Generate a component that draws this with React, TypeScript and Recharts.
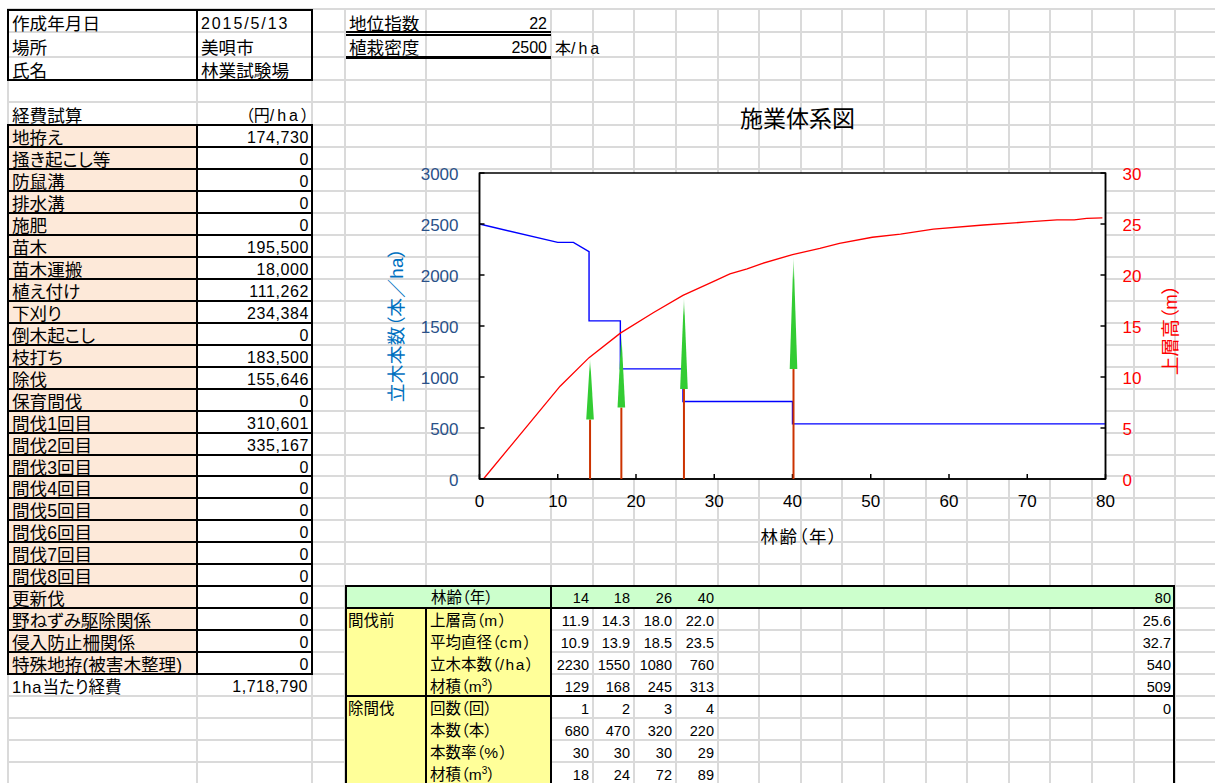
import React from "react";
import {
  ComposedChart,
  Line,
  Scatter,
  XAxis,
  YAxis,
  ReferenceArea,
} from "recharts";

// stems per hectare over stand age (stepped at each thinning)
const stemAges = [0, 10, 12, 14, 14, 18, 18, 26, 26, 40, 40, 80];
const stemCounts = [2500, 2320, 2320, 2230, 1550, 1550, 1080, 1080, 760, 760, 540, 540];

// top height curve
const heightAges = [0.5, 10.3, 14, 18, 22.2, 26, 30, 32, 34.2, 36, 40, 43.5, 46, 50.2, 53.8, 58, 64.4, 70, 73.8, 76, 77.6, 79.6];
const heightValues = [0, 9.1, 11.9, 14.3, 16.3, 18, 19.4, 20.1, 20.6, 21.1, 22, 22.6, 23.1, 23.7, 24, 24.5, 24.9, 25.2, 25.4, 25.4, 25.55, 25.6];

// thinning years, drawn as small trees
const thinAges = [14, 18, 26, 40];
const thinHeights = [11.9, 14.3, 18.0, 22.0];

const xTicks = [0, 10, 20, 30, 40, 50, 60, 70, 80];
const stemTicks = [0, 500, 1000, 1500, 2000, 2500, 3000];
const heightTicks = [0, 5, 10, 15, 20, 25, 30];

const costNames = [
  "地拵え", "掻き起こし等", "防鼠溝", "排水溝", "施肥", "苗木", "苗木運搬", "植え付け", "下刈り",
  "倒木起こし", "枝打ち", "除伐", "保育間伐", "間伐1回目", "間伐2回目", "間伐3回目", "間伐4回目",
  "間伐5回目", "間伐6回目", "間伐7回目", "間伐8回目", "更新伐", "野ねずみ駆除関係", "侵入防止柵関係",
  "特殊地拵(被害木整理)",
];
const costValues = [
  174730, 0, 0, 0, 0, 195500, 18000, 111262, 234384, 0, 183500, 155646, 0, 310601, 335167,
  0, 0, 0, 0, 0, 0, 0, 0, 0, 0,
];

const infoRows = [
  ["作成年月日", "2015/5/13"],
  ["場所", "美唄市"],
  ["氏名", "林業試験場"],
];

const tableAges = ["14", "18", "26", "40"];
const tableLastAge = "80";
const beforeLabels = ["上層高（m）", "平均直径（cm）", "立木本数（/ha）", "材積（m3）"];
const beforeValues = [
  ["11.9", "14.3", "18.0", "22.0"],
  ["10.9", "13.9", "18.5", "23.5"],
  ["2230", "1550", "1080", "760"],
  ["129", "168", "245", "313"],
];
const beforeLast = ["25.6", "32.7", "540", "509"];
const cutLabels = ["回数（回）", "本数（本）", "本数率（%）", "材積（m3）"];
const cutValues = [
  ["1", "2", "3", "4"],
  ["680", "470", "320", "220"],
  ["30", "30", "30", "29"],
  ["18", "24", "72", "89"],
];
const cutLast = ["0", "", "", ""];

const stemRows = stemAges.map((age, i) => ({ age, stems: stemCounts[i] }));
const heightRows = heightAges.map((age, i) => ({ age, height: heightValues[i] }));
const treeRows = thinAges.map((age, i) => ({ age, height: thinHeights[i] }));

const FONT = '"Liberation Sans", "Noto Sans CJK JP", sans-serif';
const GRID = "#DADADA";
const COL_X = [8, 197, 312, 345, 426, 551, 593, 634, 676, 718, 759, 801, 842, 884, 926, 967, 1009, 1050, 1092, 1134, 1175];
const TOP_ROWS = [9, 32, 57, 80, 102];
const DATA_COLS = [593, 634, 676, 718];

const rowY = (k: number) => Math.round(124.8 + 21.98 * k);

const Bar2 = ({ x, y, w, h, c = "#000" }: any) => (
  <div style={{ position: "absolute", left: x, top: y, width: w, height: h, background: c }} />
);

const Txt = ({ x, right, y, size = 17.6, ls = 0, children }: any) => (
  <div
    style={{
      position: "absolute",
      left: right === undefined ? x : undefined,
      right: right === undefined ? undefined : 1215 - right,
      top: y,
      height: 22,
      lineHeight: "22px",
      fontSize: size,
      letterSpacing: ls,
      whiteSpace: "nowrap",
      color: "#000",
    }}
  >
    {children}
  </div>
);

// latin runs sit wider than the proportional default; "m3" takes a superscript
const fmt = (s: string, gap = 1.5) =>
  s.split(/([\x20-\x7e]+)/).map((part, i) => {
    if (!/[\x20-\x7e]/.test(part)) return part;
    if (part === "m3") {
      return (
        <span key={i}>
          m<sup style={{ fontSize: 10, lineHeight: 0 }}>3</sup>
        </span>
      );
    }
    return (
      <span key={i} style={{ letterSpacing: gap }}>
        {part}
      </span>
    );
  });

const Sheet = () => {
  const allRows = [...TOP_ROWS];
  for (let k = 0; rowY(k) < 783; k++) allRows.push(rowY(k));
  const tT = rowY(21);
  const tH = rowY(22);
  const tM = rowY(26);
  const infoTops = [13, 37, 60];
  return (
    <>
      {allRows.map((y) => (
        <Bar2 key={y} x={8} y={y - 1} w={1207} h={2} c={GRID} />
      ))}
      {COL_X.map((x) => (
        <Bar2 key={x} x={x - 1} y={8} w={2} h={775} c={GRID} />
      ))}

      {/* info box */}
      {infoRows.map(([a, b], i) => (
        <React.Fragment key={a}>
          <Txt x={12} y={infoTops[i]}>{a}</Txt>
          <Txt x={201} y={infoTops[i]} size={i === 0 ? 16 : 17.6} ls={i === 0 ? 1.9 : 0}>{b}</Txt>
        </React.Fragment>
      ))}
      <Bar2 x={7} y={9} w={306} h={2} />
      <Bar2 x={7} y={79} w={306} h={2} />
      <Bar2 x={7} y={9} w={2} h={72} />
      <Bar2 x={196} y={9} w={2} h={72} />
      <Bar2 x={311} y={9} w={2} h={72} />

      {/* site index and planting density */}
      <Txt x={349} y={13}>地位指数</Txt>
      <Txt right={547} y={13} size={16}>22</Txt>
      <Bar2 x={346} y={31} w={205} h={1.5} />
      <Bar2 x={346} y={34} w={205} h={1.5} />
      <Txt x={349} y={37}>植栽密度</Txt>
      <Txt right={547} y={37} size={16}>2500</Txt>
      <Txt x={555} y={38} size={16}>{fmt("本/ha", 3)}</Txt>
      <Bar2 x={346} y={56} w={205} h={3} />

      {/* cost table */}
      <Txt x={12} y={105}>経費試算</Txt>
      <Txt right={309} y={105} size={16}>{fmt("（円/ha）", 3)}</Txt>
      {costNames.map((name, i) => (
        <React.Fragment key={name}>
          <Bar2 x={8} y={rowY(i)} w={189} h={rowY(i + 1) - rowY(i)} c="#FDE9D9" />
          <Bar2 x={198} y={rowY(i)} w={113} h={rowY(i + 1) - rowY(i)} c="#fff" />
          <Txt x={12} y={rowY(i) + 2}>{name}</Txt>
          <Txt right={309} y={rowY(i) + 2} size={16} ls={0.6}>{costValues[i].toLocaleString("en-US")}</Txt>
        </React.Fragment>
      ))}
      {costNames.concat("").map((_, i) => (
        <Bar2 key={i} x={7} y={rowY(i) - 1} w={306} h={2} />
      ))}
      <Bar2 x={7} y={rowY(0)} w={2} h={rowY(25) - rowY(0)} />
      <Bar2 x={196} y={rowY(0)} w={2} h={rowY(25) - rowY(0)} />
      <Bar2 x={311} y={rowY(0)} w={2} h={rowY(25) - rowY(0)} />
      <Txt x={12} y={rowY(25) + 2} size={16.5}>{fmt("1ha当たり経費", 1)}</Txt>
      <Txt right={308} y={rowY(25) + 2} size={16} ls={0.5}>1,718,790</Txt>

      {/* stand table */}
      <Bar2 x={346} y={tT} w={828} h={tH - tT} c="#CCFFCC" />
      <Bar2 x={346} y={tH} w={205} h={783 - tH} c="#FFFF99" />
      <Txt x={431} y={tT + 1} size={15.5}>林齢（年）</Txt>
      {tableAges.map((a, j) => (
        <Txt key={a} right={DATA_COLS[j] - 4} y={tT + 1} size={14.5}>{a}</Txt>
      ))}
      <Txt right={1171} y={tT + 1} size={14.5}>{tableLastAge}</Txt>
      <Txt x={348} y={tH + 2} size={15.5}>間伐前</Txt>
      <Txt x={348} y={tM + 2} size={15.5}>除間伐</Txt>
      {beforeLabels.map((label, i) => (
        <React.Fragment key={label}>
          <Txt x={430} y={rowY(22 + i) + 2} size={15.5}>{fmt(label)}</Txt>
          {beforeValues[i].map((v, j) => (
            <Txt key={j} right={DATA_COLS[j] - 4} y={rowY(22 + i) + 2} size={14.5}>{v}</Txt>
          ))}
          <Txt right={1171} y={rowY(22 + i) + 2} size={14.5}>{beforeLast[i]}</Txt>
        </React.Fragment>
      ))}
      {cutLabels.map((label, i) => (
        <React.Fragment key={label}>
          <Txt x={430} y={rowY(26 + i) + 2} size={15.5}>{fmt(label)}</Txt>
          {cutValues[i].map((v, j) => (
            <Txt key={j} right={DATA_COLS[j] - 4} y={rowY(26 + i) + 2} size={14.5}>{v}</Txt>
          ))}
          <Txt right={1171} y={rowY(26 + i) + 2} size={14.5}>{cutLast[i]}</Txt>
        </React.Fragment>
      ))}
      <Bar2 x={345} y={tT - 1} w={830} h={2} />
      <Bar2 x={345} y={tH - 1} w={830} h={2} />
      <Bar2 x={345} y={tM - 1} w={830} h={2} />
      <Bar2 x={345} y={tT} w={2} h={783 - tT} />
      <Bar2 x={425} y={tH} w={2} h={783 - tH} />
      <Bar2 x={550} y={tT} w={2} h={783 - tT} />
      <Bar2 x={1173} y={tT} w={2} h={783 - tT} />
    </>
  );
};

const PLOT_BOTTOM = 319;
const CROWN_BASE = 0.49; // crown starts at this share of tree height

const Tree = ({ cx, cy }: any) => {
  const x = cx + 1;
  const baseY = PLOT_BOTTOM - (PLOT_BOTTOM - cy) * CROWN_BASE;
  return (
    <g>
      <line x1={x} x2={x} y1={baseY} y2={PLOT_BOTTOM} stroke="#CC3300" strokeWidth={2} />
      <path d={`M${x} ${cy} L${x + 3.8} ${baseY} L${x - 3.8} ${baseY} Z`} fill="url(#crownFade)" />
    </g>
  );
};

const StandChart = () => (
  <ComposedChart
    width={800}
    height={390}
    margin={{ top: 13, right: 0, bottom: 0, left: 0 }}
    style={{ position: "absolute", left: 380, top: 160 }}
  >
    <defs>
      <linearGradient id="crownFade" x1="0" y1="0" x2="0" y2="1">
        <stop offset="0" stopColor="#33CC33" stopOpacity={0} />
        <stop offset="0.22" stopColor="#33CC33" />
        <stop offset="1" stopColor="#33CC33" />
      </linearGradient>
    </defs>
    <XAxis
      dataKey="age"
      type="number"
      domain={[0, 80]}
      ticks={xTicks}
      interval={0}
      height={71}
      tickSize={-5}
      tickMargin={21}
      stroke="#000"
      strokeWidth={1.5}
      tick={{ fill: "#000", fontSize: 17 }}
      label={{ value: "林齢（年）", position: "insideBottom", offset: 7, fill: "#000", fontSize: 17.5, letterSpacing: 1.6, dx: 7 }}
    />
    <YAxis
      yAxisId="stems"
      type="number"
      domain={[0, 3000]}
      ticks={stemTicks}
      interval={0}
      width={99.5}
      tickSize={-5}
      tickMargin={26}
      stroke="#000"
      strokeWidth={1.5}
      tick={{ fill: "#2A5189", fontSize: 17, dy: 1 }}
      label={{ value: "立木本数（本／ha）", angle: -90, position: "center", dx: -33, dy: -1, fill: "#0070C0", fontSize: 18.7, letterSpacing: 0.3 }}
    />
    <YAxis
      yAxisId="height"
      orientation="right"
      dataKey="height"
      type="number"
      domain={[0, 30]}
      ticks={heightTicks}
      interval={0}
      width={74.5}
      tickSize={-5}
      tickMargin={22}
      stroke="#000"
      strokeWidth={1.5}
      tick={{ fill: "#FF0000", fontSize: 17, dy: 1 }}
      label={{ value: "上層高（m）", angle: -90, position: "center", dx: 28, dy: 4, fill: "#FF0000", fontSize: 18.7 }}
    />
    <ReferenceArea yAxisId="stems" x1={0} x2={80} y1={0} y2={3000} fill="#fff" fillOpacity={1} stroke="#000" strokeWidth={1.5} />
    <Scatter data={treeRows} yAxisId="height" dataKey="height" shape={Tree} isAnimationActive={false} />
    <Line data={stemRows} yAxisId="stems" dataKey="stems" type="linear" stroke="#0000FF" strokeWidth={1.4} dot={false} isAnimationActive={false} />
    <Line data={heightRows} yAxisId="height" dataKey="height" type="linear" stroke="#FF0000" strokeWidth={1.3} dot={false} isAnimationActive={false} />
  </ComposedChart>
);

export default function App() {
  return (
    <div
      style={{
        position: "absolute",
        left: 0,
        top: 0,
        width: 1215,
        height: 783,
        overflow: "hidden",
        background: "#fff",
        fontFamily: FONT,
        fontFeatureSettings: '"palt"',
      }}
    >
      <Sheet />
      <div
        style={{
          position: "absolute",
          left: 740,
          top: 105,
          fontSize: 23,
          lineHeight: "28px",
          color: "#000",
          whiteSpace: "nowrap",
        }}
      >
        施業体系図
      </div>
      <StandChart />
    </div>
  );
}
